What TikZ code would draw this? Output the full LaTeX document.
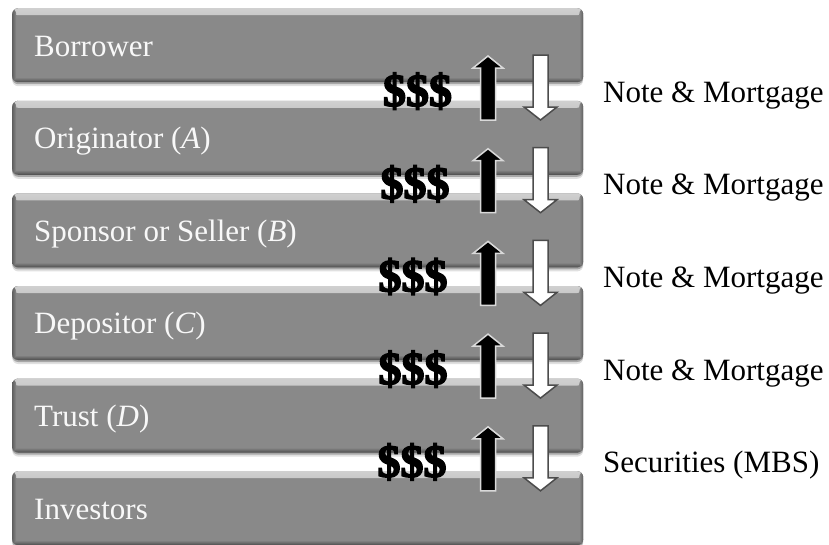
\documentclass[tikz,border=0pt]{standalone}
\usepackage{fontspec}
\setmainfont{Liberation Serif}
\newfontfamily\dollarfont[FakeBold=3.5]{Liberation Serif Bold}
\usetikzlibrary{shadows}
\definecolor{boxgray}{RGB}{137,137,137}
\definecolor{txtwhite}{RGB}{248,248,248}
\begin{document}
\begin{tikzpicture}[x=1pt,y=-1pt,
  stagebox/.style={rectangle, rounded corners=6pt, fill=boxgray,
    minimum width=571pt, minimum height=74pt, inner sep=0pt, anchor=north west,
    drop shadow={shadow xshift=0pt, shadow yshift=-4pt, opacity=.12, fill=black},
    drop shadow={shadow xshift=0pt, shadow yshift=-2pt, opacity=.25, fill=black},
    path picture={
      \shade[top color=white!60!boxgray, bottom color=boxgray]
        (path picture bounding box.north west) rectangle ([yshift=-7pt]path picture bounding box.north east);
      \shade[top color=boxgray, bottom color=black!45!boxgray]
        ([yshift=5pt]path picture bounding box.south west) rectangle (path picture bounding box.south east);
      \shade[left color=black!30!boxgray, right color=boxgray]
        (path picture bounding box.south west) rectangle ([xshift=4pt]path picture bounding box.north west);
      \shade[left color=boxgray, right color=black!30!boxgray]
        ([xshift=-4pt]path picture bounding box.south east) rectangle (path picture bounding box.north east);
    }},
  stagelabel/.style={anchor=base west, inner sep=0pt, text=txtwhite, font=\fontsize{31}{36}\selectfont},
  flowlabel/.style={anchor=base west, inner sep=0pt, text=black, font=\fontsize{31}{36}\selectfont},
  dollars/.style={anchor=base, inner sep=0pt, text=black, font=\dollarfont\fontsize{46}{46}\selectfont},
  uparrow/.style={fill=black, draw=black!15, line width=1.5pt, line join=miter},
  downarrow/.style={fill=white, draw=black!70, line width=1.5pt, line join=miter}
]
\useasboundingbox (0,0) rectangle (829,544);
\fill[white] (0,0) rectangle (829,544);

% boxes
\foreach \k/\lab in {0/Borrower,
                     1/{Originator (\textit{A})},
                     2/{Sponsor or Seller (\textit{B})},
                     3/{Depositor (\textit{C})},
                     4/{Trust (\textit{D})},
                     5/Investors} {
  \pgfmathsetmacro\t{8+92.6*\k}
  \node[stagebox] (box\k) at (12,\t) {};
  \node[stagelabel] (lab\k) at (34,{\t+48}) {\lab};
}

% flows between boxes
\foreach \k/\dx/\txt in {0/417.5/{Note \& Mortgage},
                         1/415/{Note \& Mortgage},
                         2/413/{Note \& Mortgage},
                         3/413/{Note \& Mortgage},
                         4/412/{Securities (MBS)}} {
  \pgfmathsetmacro\o{92.7*\k}
  \node[dollars] (usd\k) at (\dx,{106+\o}) {\$\$\$};
  \draw[uparrow] (488,{56+\o}) -- (503,{68+\o}) -- (495.5,{68+\o}) -- (495.5,{120+\o})
     -- (480.5,{120+\o}) -- (480.5,{68+\o}) -- (473,{68+\o}) -- cycle;
  \draw[downarrow] (533,{55+\o}) -- (548,{55+\o}) -- (548,{107+\o}) -- (557,{107+\o})
     -- (540.5,{120+\o}) -- (524,{107+\o}) -- (533,{107+\o}) -- cycle;
  \node[flowlabel] (flow\k) at (603,{102+\o}) {\txt};
}
\end{tikzpicture}
\end{document}
